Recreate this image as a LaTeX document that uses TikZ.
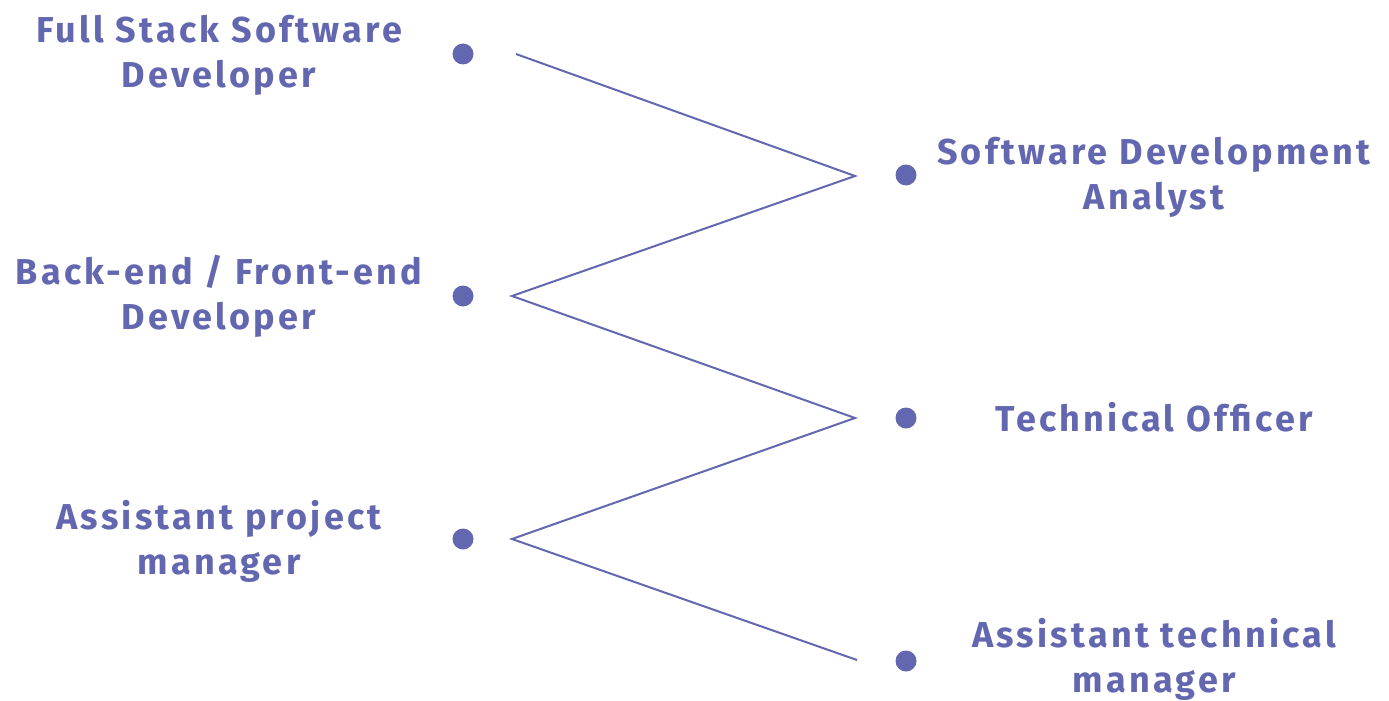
\documentclass[tikz,border=0pt]{standalone}
\usepackage{fontspec}
\setmainfont{Fira Sans}[UprightFont=* Bold,LetterSpace=9]
\definecolor{ink}{RGB}{99,103,176}
\begin{document}
\begin{tikzpicture}[x=1pt,y=-1pt,
  dot/.style={circle,fill=ink,inner sep=0pt,minimum size=21pt},
  lbl/.style={text=ink,font=\fontsize{36}{45}\selectfont,align=center,inner sep=0pt},
  zig/.style={draw=ink,line width=2pt,line join=miter}]
\useasboundingbox (0,0) rectangle (1389,701);
\node[dot] (d1) at (463,54) {};
\node[dot] (d2) at (463,296) {};
\node[dot] (d3) at (463,539) {};
\node[dot] (r1) at (906,175) {};
\node[dot] (r2) at (906,418) {};
\node[dot] (r3) at (906,661) {};
\node[lbl] (t1) at (219,55) {Full Stack Software\\Developer};
\node[lbl] (t2) at (219,296) {Back-end / Front-end\\Developer};
\node[lbl] (t3) at (219,541) {Assistant project\\manager};
\node[lbl] (s1) at (1154,177) {Software Development\\Analyst};
\node[lbl] (s2) at (1154,417) {Technical Officer};
\node[lbl] (s3) at (1154,659) {Assistant technical\\manager};
\coordinate (p0) at (516,54);
\coordinate (p1) at (855,176);
\coordinate (p2) at (512,296);
\coordinate (p3) at (855,418);
\coordinate (p4) at (512,539);
\coordinate (p5) at (857,660);
\draw[zig] (p0) -- (p1) -- (p2) -- (p3) -- (p4) -- (p5);
\end{tikzpicture}
\end{document}
